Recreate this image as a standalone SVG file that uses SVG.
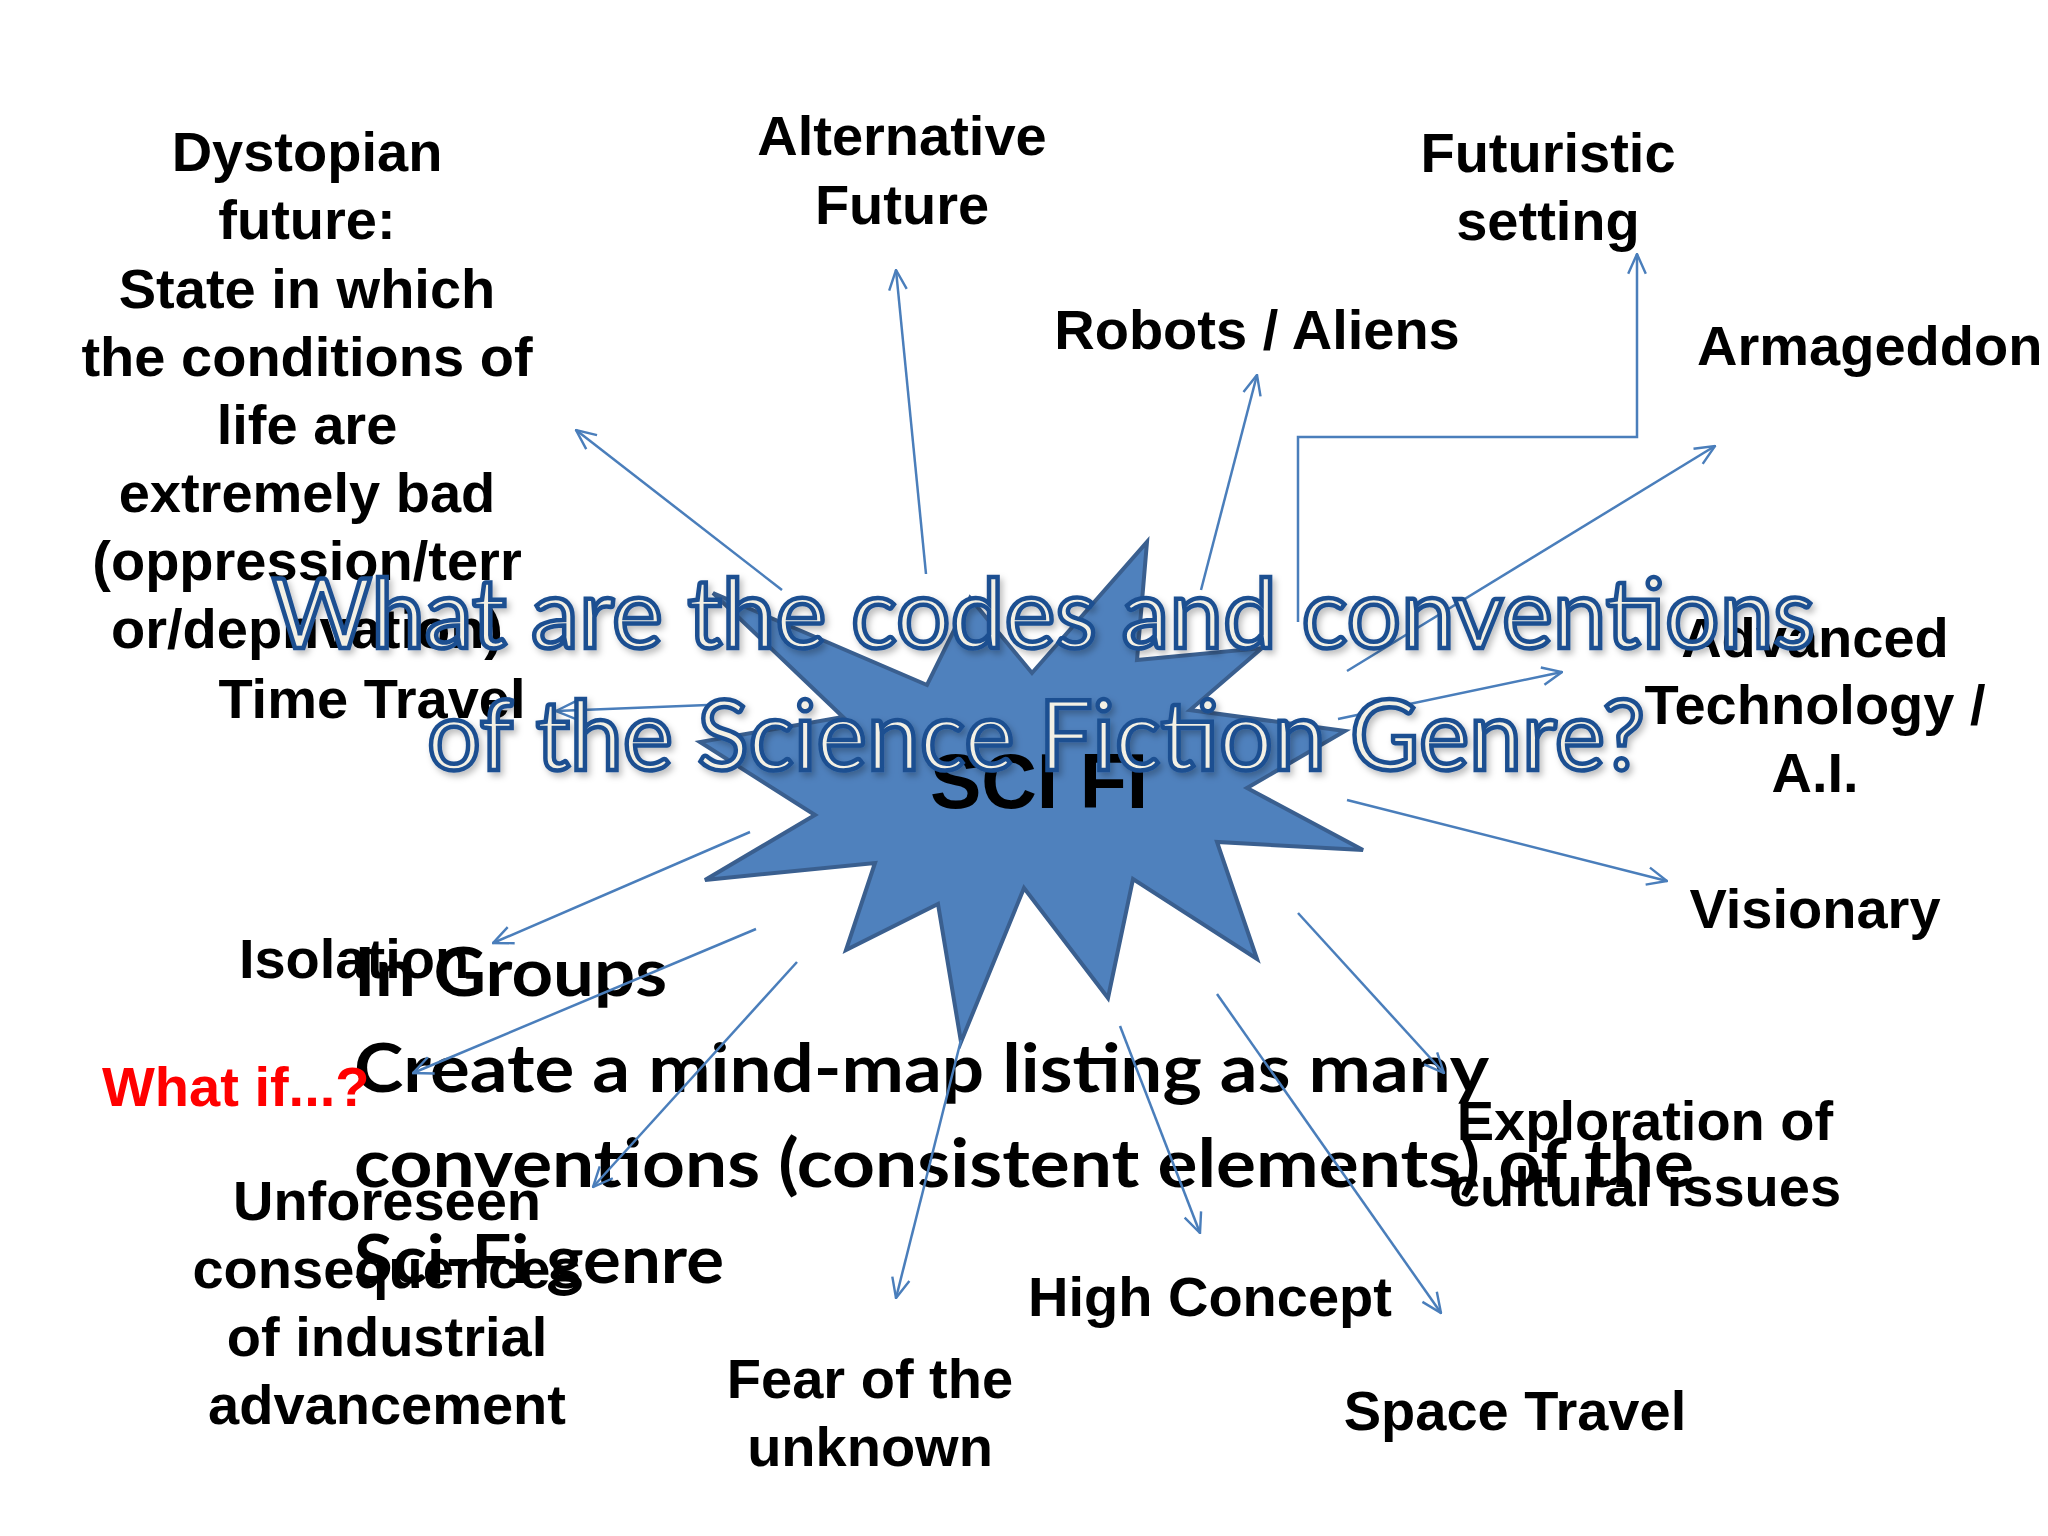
<svg xmlns="http://www.w3.org/2000/svg" width="2048" height="1536" viewBox="0 0 2048 1536">
<defs>
<style>
.lbl{font-family:"Liberation Sans",Arial,sans-serif;font-weight:bold;font-size:56px;fill:#000;text-anchor:middle}
.con{fill:none;stroke:#4a7ebb;stroke-width:2.5;marker-end:url(#ah)}
.task{font-family:Lato,"Open Sans",sans-serif;font-weight:bold;font-size:67px;fill:#000}
.title{font-family:Lato,"Open Sans",sans-serif;font-size:96px;fill:#f3f0e4;stroke:#1d4f91;stroke-width:4.5;filter:url(#sh)}
</style>
<marker id="ah" viewBox="0 0 20 20" refX="19" refY="10" markerWidth="22" markerHeight="22" markerUnits="userSpaceOnUse" orient="auto">
<path d="M1,2 L19,10 L1,18" fill="none" stroke="#4a7ebb" stroke-width="2.2"/>
</marker>
<filter id="sh" x="-5%" y="-20%" width="110%" height="140%">
<feDropShadow dx="3" dy="4" stdDeviation="3" flood-color="#000" flood-opacity="0.25"/>
</filter>
</defs>
<rect width="2048" height="1536" fill="#fff"/>

<g id="center">
<polygon points="713,593 927,685 970,598 1032,673 1147,542 1137,660 1262,648 1190,710 1345,731 1247,788 1363,850 1217,842 1257,959 1133,879 1108,998 1024,888 961,1042 938,904 846,950 875,863 705,880 815,815 700,742 843,717" fill="#4f81bd" stroke="#3a5f8f" stroke-width="4" stroke-linejoin="miter"/>
<text x="1039" y="808" font-family="Liberation Sans,Arial,sans-serif" font-weight="bold" font-size="77" fill="#000" text-anchor="middle">SCI FI</text>
</g>

<g id="task">
<text class="task" x="354" y="996" textLength="313" lengthAdjust="spacingAndGlyphs">In Groups</text>
<text class="task" x="354" y="1092" textLength="1135" lengthAdjust="spacingAndGlyphs">Create a mind-map listing as many</text>
<text class="task" x="354" y="1187" textLength="1340" lengthAdjust="spacingAndGlyphs">conventions (consistent elements) of the</text>
<text class="task" x="354" y="1283" textLength="370" lengthAdjust="spacingAndGlyphs">Sci-Fi genre</text>
</g>

<g id="n-dystopian" class="lbl">
<text x="307" y="171">Dystopian</text>
<text x="307" y="239">future:</text>
<text x="307" y="308">State in which</text>
<text x="307" y="376">the conditions of</text>
<text x="307" y="444">life are</text>
<text x="307" y="512">extremely bad</text>
<text x="307" y="580">(oppression/terr</text>
<text x="307" y="648">or/deprivation)</text>
</g>
<g id="n-timetravel" class="lbl"><text x="372" y="718">Time Travel</text></g>
<g id="n-alternative" class="lbl"><text x="902" y="155">Alternative</text><text x="902" y="224">Future</text></g>
<g id="n-futuristic" class="lbl"><text x="1548" y="172">Futuristic</text><text x="1548" y="240">setting</text></g>
<g id="n-robots" class="lbl"><text x="1257" y="349">Robots / Aliens</text></g>
<g id="n-armageddon" class="lbl"><text x="1697" y="365" style="text-anchor:start">Armageddon</text></g>
<g id="n-advanced" class="lbl"><text x="1815" y="657">Advanced</text><text x="1815" y="724">Technology /</text><text x="1815" y="792">A.I.</text></g>
<g id="n-visionary" class="lbl"><text x="1815" y="928">Visionary</text></g>
<g id="n-exploration" class="lbl"><text x="1645" y="1140">Exploration of</text><text x="1645" y="1206">cultural issues</text></g>
<g id="n-highconcept" class="lbl"><text x="1210" y="1316">High Concept</text></g>
<g id="n-space" class="lbl"><text x="1515" y="1430">Space Travel</text></g>
<g id="n-fear" class="lbl"><text x="870" y="1398">Fear of the</text><text x="870" y="1466">unknown</text></g>
<g id="n-unforeseen" class="lbl"><text x="387" y="1220">Unforeseen</text><text x="387" y="1288">consequences</text><text x="387" y="1356">of industrial</text><text x="387" y="1424">advancement</text></g>
<g id="n-whatif" class="lbl"><text x="102" y="1106" style="text-anchor:start;fill:#ff0000">What if...?</text></g>
<g id="n-isolation" class="lbl"><text x="354" y="978">Isolation</text></g>

<g id="connectors">
<line class="con" x1="782" y1="590" x2="576" y2="430"/>
<line class="con" x1="926" y1="574" x2="896" y2="270"/>
<line class="con" x1="1201" y1="590" x2="1257" y2="375"/>
<path class="con" d="M1298,622 V437 H1637 V254"/>
<line class="con" x1="1347" y1="671" x2="1715" y2="446"/>
<line class="con" x1="1338" y1="719" x2="1562" y2="672"/>
<line class="con" x1="1347" y1="800" x2="1667" y2="881"/>
<line class="con" x1="1298" y1="913" x2="1444" y2="1073"/>
<line class="con" x1="1217" y1="994" x2="1441" y2="1313"/>
<line class="con" x1="1120" y1="1026" x2="1200" y2="1233"/>
<line class="con" x1="961" y1="1040" x2="896" y2="1298"/>
<line class="con" x1="797" y1="962" x2="593" y2="1187"/>
<line class="con" x1="756" y1="929" x2="413" y2="1073"/>
<line class="con" x1="750" y1="832" x2="493" y2="943"/>
<line class="con" x1="733" y1="704" x2="556" y2="711"/>
</g>

<g id="title">
<text class="title" x="272" y="648" textLength="1543" lengthAdjust="spacingAndGlyphs">What are the codes and conventions</text>
<text class="title" x="427" y="770" textLength="1218" lengthAdjust="spacingAndGlyphs">of the Science Fiction Genre?</text>
</g>
</svg>
